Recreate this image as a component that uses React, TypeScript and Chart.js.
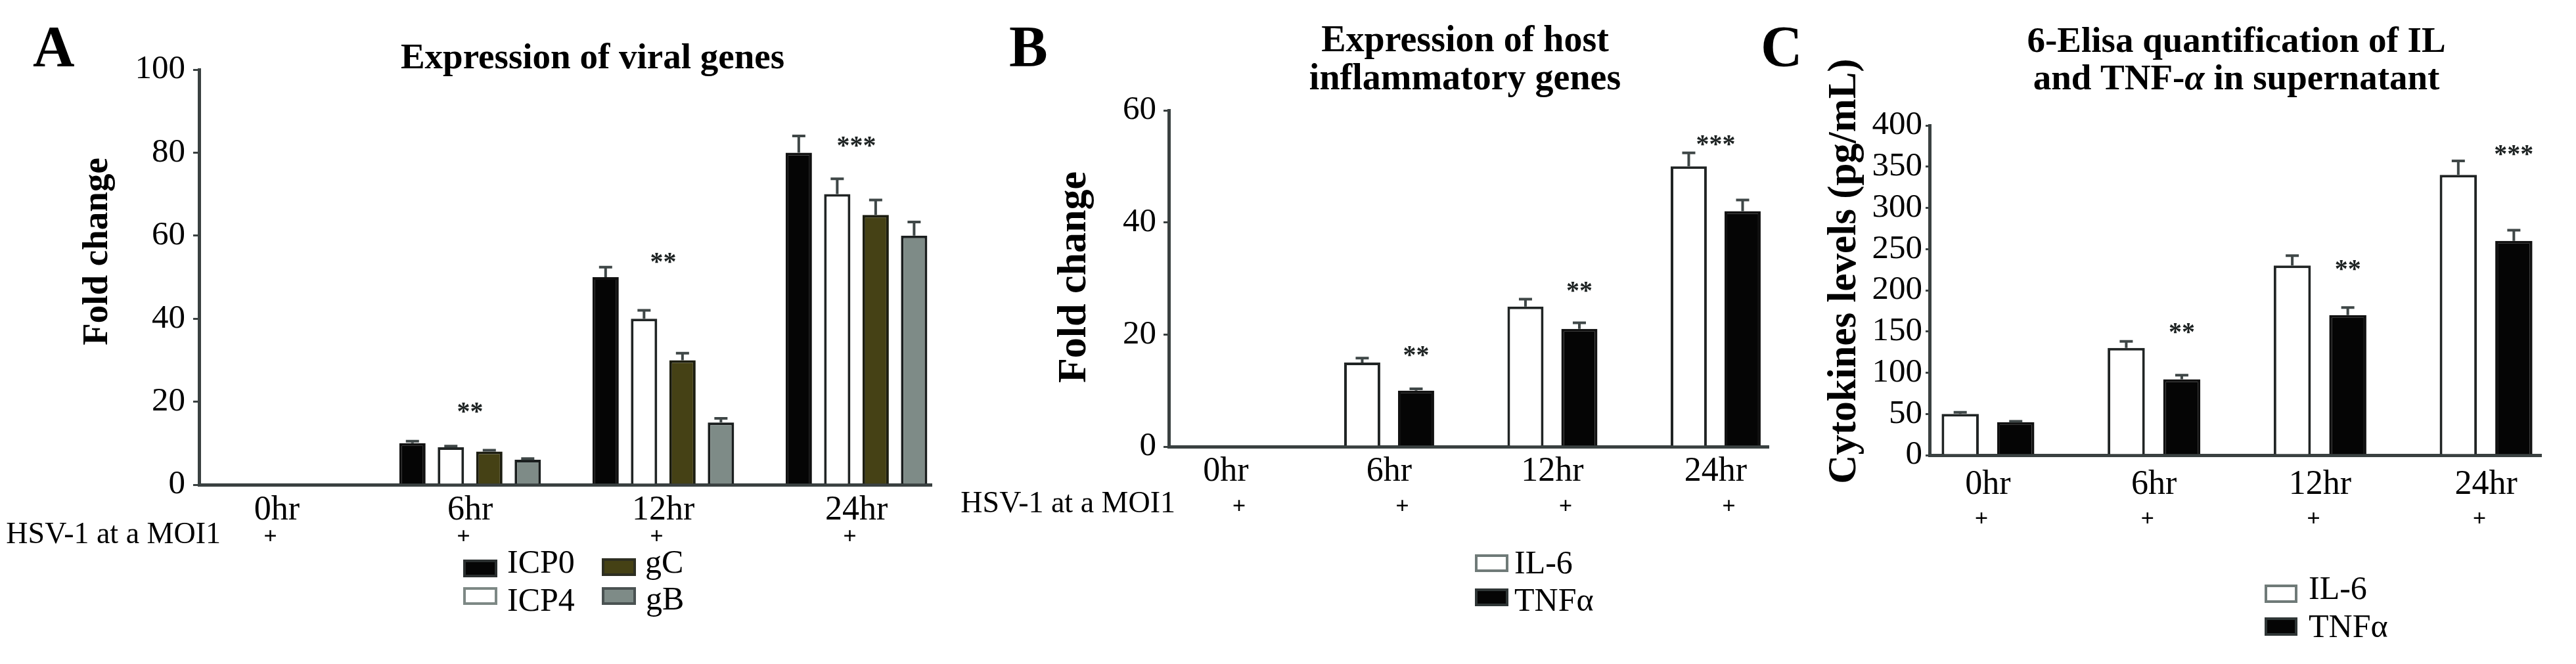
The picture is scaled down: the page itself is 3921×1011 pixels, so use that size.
import React, { useEffect, useRef } from 'react';
import { Chart, registerables } from 'chart.js';

Chart.register(...registerables);

const PAGE_W = 3921;
const PAGE_H = 1011;
const SERIF = '"Liberation Serif", "Times New Roman", serif';
const AXIS = '#3a4141';
const ERR = '#3f4747';
const INK = '#000000';

// Shared x categories and the infection row printed under them
const timePoints = ['0hr', '6hr', '12hr', '24hr'];
const infectionMarks = ['+', '+', '+', '+'];
const infectionLabel = 'HSV-1 at a MOI1';

// A: viral gene expression (fold change)
const icp0 = [0, 10, 50, 80];
const icp0Err = [0, 0.5, 2.4, 4];
const icp4 = [0, 9, 40, 70];
const icp4Err = [0, 0.3, 2, 3.7];
const gC = [0, 8, 30, 65];
const gCErr = [0, 0.3, 1.7, 3.6];
const gB = [0, 6, 15, 60];
const gBErr = [0, 0.3, 1, 3.3];
const viralSig = ['', '**', '**', '***'];
const viralSigLevel = [0, 19, 55, 83];

// B: host inflammatory genes (fold change)
const il6Fold = [0, 15, 25, 50];
const il6FoldErr = [0, 0.8, 1.3, 2.4];
const tnfFold = [0, 10, 21, 42];
const tnfFoldErr = [0, 0.3, 1.1, 2];
const hostSig = ['', '**', '**', '***'];
const hostSigLevel = [0, 17.4, 28.8, 55];

// C: ELISA cytokine levels (pg/mL)
const il6Level = [50, 130, 230, 340];
const il6LevelErr = [2, 8, 12, 17];
const tnfLevel = [40, 92, 170, 260];
const tnfLevelErr = [1, 5, 9, 13];
const elisaSig = ['', '**', '**', '***'];
const elisaSigLevel = [0, 156, 233, 372];

type Seg = { t: string; italic?: boolean };
type Series = {
  label: string;
  values: number[];
  errors: number[];
  fill: string;
  edge: string;
  keyEdge: string;
};
type LegendSlot = { boxX: number; boxY: number; textX: number; baseline: number };
type Panel = {
  letter: string;
  letterX: number;
  title: Seg[][];
  titleCenter: number;
  titleBaselines: number[];
  titleSize: number;
  yTitle: string;
  yTitleAt: [number, number];
  yTitleSize: number;
  plot: { left: number; right: number; top: number; bottom: number };
  xMin: number;
  xMax: number;
  yMax: number;
  yStep: number;
  tickLen: number;
  tickPad: number;
  labelPad: number;
  categoryPct: number;
  barPct: number;
  series: Series[];
  sig: string[];
  sigLevel: number[];
  sigAnchor: (number | null)[];
  plusY: number;
  plusShift: number;
  hsv: { right: number; baseline: number } | null;
  legend: LegendSlot[];
  legendBox: [number, number];
};

const WHITE = '#ffffff';
const BLACK = '#050505';

const panels: Panel[] = [
  {
    letter: 'A',
    letterX: 50,
    title: [[{ t: 'Expression of viral genes' }]],
    titleCenter: 902,
    titleBaselines: [104],
    titleSize: 55,
    yTitle: 'Fold change',
    yTitleAt: [149, 383],
    yTitleSize: 55,
    plot: { left: 303, right: 1418, top: 106, bottom: 738 },
    xMin: -0.403,
    xMax: 3.389,
    yMax: 100,
    yStep: 20,
    tickLen: 9,
    tickPad: 12,
    labelPad: 8,
    categoryPct: 0.796,
    barPct: 0.684,
    series: [
      { label: 'ICP0', values: icp0, errors: icp0Err, fill: BLACK, edge: '#111111', keyEdge: '#2a2f2f' },
      { label: 'ICP4', values: icp4, errors: icp4Err, fill: WHITE, edge: '#202424', keyEdge: '#7d8885' },
      { label: 'gC', values: gC, errors: gCErr, fill: '#454115', edge: '#1c1d10', keyEdge: '#2e2f22' },
      { label: 'gB', values: gB, errors: gBErr, fill: '#7e8b87', edge: '#1a1e1e', keyEdge: '#4a5252' },
    ],
    sig: viralSig,
    sigLevel: viralSigLevel,
    sigAnchor: [null, null, null, null],
    plusY: 819,
    plusShift: -10,
    hsv: { right: 336, baseline: 827 },
    legend: [
      { boxX: 705, boxY: 852, textX: 772, baseline: 872 },
      { boxX: 705, boxY: 894, textX: 772, baseline: 930 },
      { boxX: 916, boxY: 850, textX: 982, baseline: 872 },
      { boxX: 916, boxY: 894, textX: 983, baseline: 928 },
    ],
    legendBox: [52, 27],
  },
  {
    letter: 'B',
    letterX: 1536,
    title: [[{ t: 'Expression of host' }], [{ t: 'inflammatory genes' }]],
    titleCenter: 2230,
    titleBaselines: [78, 136],
    titleSize: 56,
    yTitle: 'Fold change',
    yTitleAt: [1636, 422],
    yTitleSize: 62,
    plot: { left: 1779, right: 2692, top: 168, bottom: 680 },
    xMin: -0.35,
    xMax: 3.324,
    yMax: 60,
    yStep: 20,
    tickLen: 8,
    tickPad: 11,
    labelPad: 7,
    categoryPct: 0.66,
    barPct: 0.67,
    series: [
      { label: 'IL-6', values: il6Fold, errors: il6FoldErr, fill: WHITE, edge: '#202424', keyEdge: '#6f7a78' },
      { label: 'TNFα', values: tnfFold, errors: tnfFoldErr, fill: BLACK, edge: '#111111', keyEdge: '#2f3636' },
    ],
    sig: hostSig,
    sigLevel: hostSigLevel,
    sigAnchor: [null, 1, 1, null],
    plusY: 773,
    plusShift: 20,
    hsv: { right: 1789, baseline: 780 },
    legend: [
      { boxX: 2245, boxY: 844, textX: 2305, baseline: 873 },
      { boxX: 2245, boxY: 896, textX: 2305, baseline: 930 },
    ],
    legendBox: [51, 27],
  },
  {
    letter: 'C',
    letterX: 2680,
    title: [
      [{ t: '6-Elisa quantification of IL' }],
      [{ t: 'and TNF-' }, { t: 'α', italic: true }, { t: ' in supernatant' }],
    ],
    titleCenter: 3404,
    titleBaselines: [79, 136],
    titleSize: 55,
    yTitle: 'Cytokines levels (pg/mL)',
    yTitleAt: [2808, 413],
    yTitleSize: 61,
    plot: { left: 2937, right: 3868, top: 191, bottom: 693 },
    xMin: -0.352,
    xMax: 3.332,
    yMax: 400,
    yStep: 50,
    tickLen: 6,
    tickPad: 5,
    labelPad: 14,
    categoryPct: 0.669,
    barPct: 0.669,
    series: [
      { label: 'IL-6', values: il6Level, errors: il6LevelErr, fill: WHITE, edge: '#202424', keyEdge: '#6f7a78' },
      { label: 'TNFα', values: tnfLevel, errors: tnfLevelErr, fill: BLACK, edge: '#111111', keyEdge: '#2f3636' },
    ],
    sig: elisaSig,
    sigLevel: elisaSigLevel,
    sigAnchor: [null, 1, 1, 1],
    plusY: 792,
    plusShift: -10,
    hsv: null,
    legend: [
      { boxX: 3447, boxY: 890, textX: 3514, baseline: 912 },
      { boxX: 3447, boxY: 940, textX: 3514, baseline: 970 },
    ],
    legendBox: [50, 28],
  },
];

function font(size: number, bold = false, italic = false) {
  return `${italic ? 'italic ' : ''}${bold ? 'bold ' : ''}${size}px ${SERIF}`;
}

function decorations(p: Panel) {
  return {
    id: 'decor' + p.letter,
    afterDatasetsDraw(chart: any) {
      const ctx: CanvasRenderingContext2D = chart.ctx;
      const yScale = chart.scales.y;
      ctx.save();
      ctx.strokeStyle = ERR;
      ctx.lineWidth = 4;
      ctx.lineCap = 'butt';
      p.series.forEach((s, di) => {
        const meta = chart.getDatasetMeta(di);
        meta.data.forEach((bar: any, i: number) => {
          const e = s.errors[i];
          if (!e) return;
          const base = yScale.getPixelForValue(s.values[i]);
          const top = yScale.getPixelForValue(s.values[i] + e);
          ctx.beginPath();
          ctx.moveTo(bar.x, base);
          ctx.lineTo(bar.x, top);
          ctx.moveTo(bar.x - 10, top);
          ctx.lineTo(bar.x + 10, top);
          ctx.stroke();
        });
      });
      ctx.restore();
    },
    afterDraw(chart: any) {
      const ctx: CanvasRenderingContext2D = chart.ctx;
      const xScale = chart.scales.x;
      const yScale = chart.scales.y;
      ctx.save();
      ctx.fillStyle = INK;

      // panel letter
      ctx.font = font(88, true);
      ctx.textAlign = 'left';
      ctx.textBaseline = 'alphabetic';
      ctx.fillText(p.letter, p.letterX, 100);

      // title, centred line by line
      p.title.forEach((line, li) => {
        const widths = line.map((sg) => {
          ctx.font = font(p.titleSize, true, !!sg.italic);
          return ctx.measureText(sg.t).width;
        });
        const total = widths.reduce((a, b) => a + b, 0);
        let x = p.titleCenter - total / 2;
        line.forEach((sg, si) => {
          ctx.font = font(p.titleSize, true, !!sg.italic);
          ctx.textAlign = 'left';
          ctx.fillText(sg.t, x, p.titleBaselines[li]);
          x += widths[si];
        });
      });

      // rotated value-axis title
      ctx.save();
      ctx.translate(p.yTitleAt[0], p.yTitleAt[1]);
      ctx.rotate(-Math.PI / 2);
      ctx.font = font(p.yTitleSize, true);
      ctx.textAlign = 'center';
      ctx.textBaseline = 'middle';
      ctx.fillText(p.yTitle, 0, 0);
      ctx.restore();

      // infection row
      ctx.font = font(36, true);
      ctx.textAlign = 'center';
      ctx.textBaseline = 'middle';
      infectionMarks.forEach((m, i) => {
        ctx.fillText(m, xScale.getPixelForValue(i) + p.plusShift, p.plusY);
      });
      if (p.hsv) {
        ctx.font = font(46);
        ctx.textAlign = 'right';
        ctx.textBaseline = 'alphabetic';
        ctx.fillText(infectionLabel, p.hsv.right, p.hsv.baseline);
      }

      // significance stars
      ctx.font = font(40, true);
      ctx.textAlign = 'center';
      ctx.textBaseline = 'alphabetic';
      p.sig.forEach((mark, i) => {
        if (!mark) return;
        const anchor = p.sigAnchor[i];
        const x = anchor == null ? xScale.getPixelForValue(i) : chart.getDatasetMeta(anchor).data[i].x;
        const y = yScale.getPixelForValue(p.sigLevel[i]);
        ctx.fillStyle = '#1d2222';
        ctx.fillText(mark, x, y + 21);
      });

      // legend keys
      const [bw, bh] = p.legendBox;
      p.series.forEach((s, i) => {
        const slot = p.legend[i];
        ctx.fillStyle = s.fill;
        ctx.fillRect(slot.boxX, slot.boxY, bw, bh);
        ctx.strokeStyle = s.keyEdge;
        ctx.lineWidth = 4;
        ctx.strokeRect(slot.boxX + 2, slot.boxY + 2, bw - 4, bh - 4);
        ctx.fillStyle = INK;
        ctx.font = font(50);
        ctx.textAlign = 'left';
        ctx.textBaseline = 'alphabetic';
        ctx.fillText(s.label, slot.textX, slot.baseline);
      });
      ctx.restore();
    },
  };
}

function buildConfig(p: Panel): any {
  const yAxisW = 150;
  const xAxisH = 90;
  return {
    type: 'bar',
    data: {
      datasets: p.series.map((s) => ({
        label: s.label,
        data: s.values.map((v, i) => ({ x: i, y: v })),
        backgroundColor: s.fill,
        borderColor: s.edge,
        borderWidth: 4,
        categoryPercentage: p.categoryPct,
        barPercentage: p.barPct,
      })),
    },
    options: {
      responsive: false,
      animation: false,
      devicePixelRatio: 1,
      layout: {
        padding: {
          left: p.plot.left - yAxisW,
          right: PAGE_W - p.plot.right,
          top: p.plot.top,
          bottom: PAGE_H - p.plot.bottom - xAxisH,
        },
      },
      plugins: {
        legend: { display: false },
        tooltip: { enabled: false },
        title: { display: false },
      },
      scales: {
        x: {
          type: 'linear',
          min: p.xMin,
          max: p.xMax,
          offset: false,
          z: 1,
          afterFit: (s: any) => {
            s.height = xAxisH;
          },
          grid: { display: false, drawTicks: false, offset: false },
          border: { display: true, color: AXIS, width: 5 },
          ticks: {
            stepSize: 1,
            includeBounds: false,
            autoSkip: false,
            maxRotation: 0,
            minRotation: 0,
            padding: p.labelPad,
            color: INK,
            font: { family: SERIF, size: 52 },
            callback: (v: number) => (Number.isInteger(v) && timePoints[v] ? timePoints[v] : ''),
          },
        },
        y: {
          min: 0,
          max: p.yMax,
          afterFit: (s: any) => {
            s.width = yAxisW;
          },
          grid: {
            display: true,
            drawOnChartArea: false,
            drawTicks: true,
            tickLength: p.tickLen,
            color: AXIS,
            lineWidth: 3,
          },
          border: { display: true, color: AXIS, width: 5 },
          ticks: {
            stepSize: p.yStep,
            autoSkip: false,
            padding: p.tickPad,
            color: INK,
            font: { family: SERIF, size: 51, lineHeight: 1 },
          },
        },
      },
    },
    plugins: [decorations(p)],
  };
}

function PanelChart({ panel }: { panel: Panel }) {
  const ref = useRef<HTMLCanvasElement>(null);
  useEffect(() => {
    const canvas = ref.current;
    if (!canvas) return;
    const chart = new Chart(canvas, buildConfig(panel));
    return () => chart.destroy();
  }, [panel]);
  return (
    <canvas
      ref={ref}
      width={PAGE_W}
      height={PAGE_H}
      style={{ position: 'absolute', left: 0, top: 0, width: PAGE_W, height: PAGE_H }}
    />
  );
}

export default function App() {
  return (
    <div
      style={{
        position: 'fixed',
        left: 0,
        top: 0,
        width: PAGE_W,
        height: PAGE_H,
        background: '#ffffff',
        overflow: 'hidden',
      }}
    >
      {panels.map((p) => (
        <PanelChart key={p.letter} panel={p} />
      ))}
    </div>
  );
}
